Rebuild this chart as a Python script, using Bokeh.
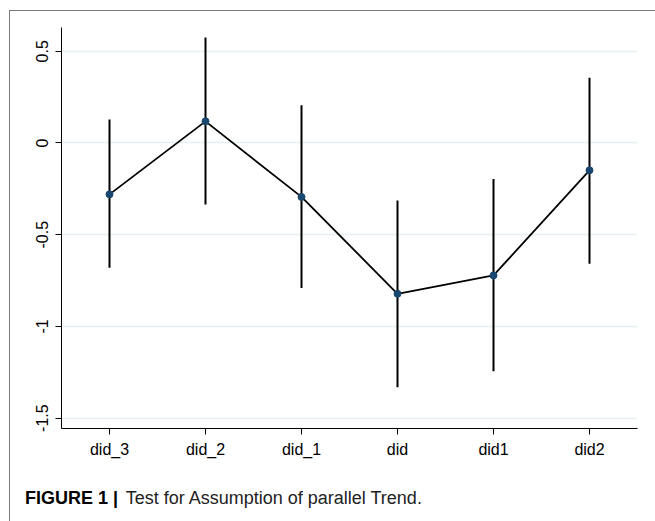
from bokeh.plotting import figure
from bokeh.models import ColumnDataSource, FixedTicker, FactorRange, Range1d, Div
from bokeh.layouts import column
from bokeh.embed import file_html
from bokeh.resources import INLINE

# Data
categories = ["did_3", "did_2", "did_1", "did", "did1", "did2"]
estimates = [-0.28, 0.118, -0.294, -0.822, -0.722, -0.149]
ci_upper = [0.128, 0.575, 0.206, -0.313, -0.196, 0.355]
ci_lower = [-0.68, -0.336, -0.791, -1.331, -1.245, -0.658]
y_ticks = [-1.5, -1.0, -0.5, 0.0, 0.5]
y_tick_labels = ["-1.5", "-1", "-0.5", "0", "0.5"]
caption_bold = "FIGURE 1 |"
caption_text = "Test for Assumption of parallel Trend."

src = ColumnDataSource(dict(x=categories, y=estimates, lo=ci_lower, hi=ci_upper))

p = figure(
    x_range=FactorRange(*categories, range_padding=0),
    y_range=Range1d(-1.5565, 0.6296),
    frame_width=576, frame_height=401,
    min_border_left=51, min_border_top=16, min_border_right=17, min_border_bottom=50,
    output_backend="svg", toolbar_location=None,
    background_fill_color="white", border_fill_color="white",
)
p.outline_line_color = None

# gridlines
p.xgrid.grid_line_color = None
p.ygrid.grid_line_color = "#e6eff1"
p.ygrid.grid_line_width = 1.5
p.ygrid.ticker = FixedTicker(ticks=y_ticks)

# axes
for ax in (p.xaxis[0], p.yaxis[0]):
    ax.axis_line_color = "#000000"
    ax.axis_line_width = 1
    ax.major_tick_line_color = "#000000"
    ax.major_tick_in = 0
    ax.major_tick_out = 6
    ax.minor_tick_line_color = None
    ax.major_label_text_font = "Liberation Sans"
    ax.major_label_text_font_size = "16px"
    ax.major_label_text_color = "#000000"

p.yaxis.ticker = FixedTicker(ticks=y_ticks)
p.yaxis.major_label_overrides = {t: l for t, l in zip(y_ticks, y_tick_labels)}
p.yaxis.major_label_orientation = "vertical"
p.yaxis.major_label_standoff = 7
p.xaxis.major_label_standoff = 6

# error bars, connecting line, points
p.segment(x0="x", y0="lo", x1="x", y1="hi", source=src, line_color="#000000", line_width=2)
p.line(x="x", y="y", source=src, line_color="#000000", line_width=1.8)
p.scatter(x="x", y="y", source=src, size=7, fill_color="#1a476f", line_color="#1a476f")

# caption
cap = Div(
    text=(
        "<div style=\"font-family:'Liberation Sans',Arial,sans-serif;font-size:18px;"
        "line-height:20px;padding:5px 0 0 10px;color:#222;white-space:nowrap\">"
        f"<b style=\"color:#000;margin-right:3px\">{caption_bold}</b> {caption_text}</div>"
    ),
    width=644, height=40,
)

layout = column(p, cap, spacing=0)
layout.styles = {"border-left": "1px solid #7a7a7a", "border-top": "1px solid #7a7a7a",
                 "margin-left": "9px", "margin-top": "10px"}

open("out.html", "w").write(file_html(layout, INLINE))
